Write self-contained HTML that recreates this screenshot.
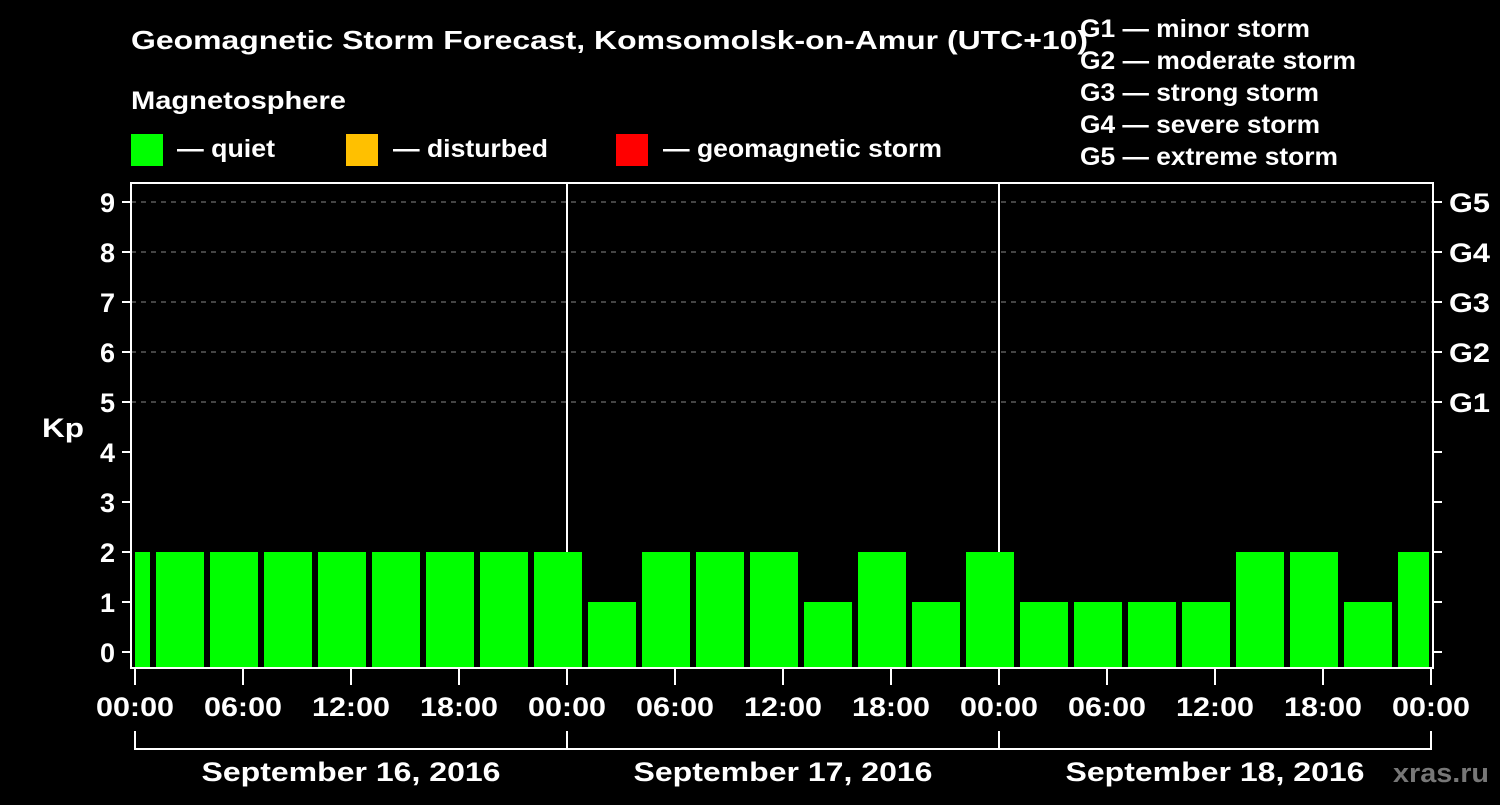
<!DOCTYPE html>
<html><head><meta charset="utf-8"><style>
body{margin:0;background:#000;width:1500px;height:800px;overflow:hidden}
svg text{font-family:"Liberation Sans",Arial,sans-serif;font-weight:bold;fill:#fff}
</style></head><body>
<svg id="c" width="1500" height="800" viewBox="0 0 1500 800">
<defs><clipPath id="pc"><rect x="135" y="183" width="1294" height="485"/></clipPath></defs>
<text x="131" y="49" font-size="26" textLength="957" lengthAdjust="spacingAndGlyphs">Geomagnetic Storm Forecast, Komsomolsk-on-Amur (UTC+10)</text>
<text x="131" y="109" font-size="25" textLength="215" lengthAdjust="spacingAndGlyphs">Magnetosphere</text>
<g><rect x="131" y="134" width="32" height="32" fill="#00ff00"/><text x="177" y="157" font-size="25" textLength="98" lengthAdjust="spacingAndGlyphs">— quiet</text></g>
<g><rect x="346" y="134" width="32" height="32" fill="#ffc000"/><text x="393" y="157" font-size="25" textLength="155" lengthAdjust="spacingAndGlyphs">— disturbed</text></g>
<g><rect x="616" y="134" width="32" height="32" fill="#ff0000"/><text x="663" y="157" font-size="25" textLength="279" lengthAdjust="spacingAndGlyphs">— geomagnetic storm</text></g>
<g font-size="25" lengthAdjust="spacingAndGlyphs">
<text x="1080" y="37" textLength="230" lengthAdjust="spacingAndGlyphs">G1 — minor storm</text>
<text x="1080" y="69" textLength="276" lengthAdjust="spacingAndGlyphs">G2 — moderate storm</text>
<text x="1080" y="101" textLength="239" lengthAdjust="spacingAndGlyphs">G3 — strong storm</text>
<text x="1080" y="133" textLength="240" lengthAdjust="spacingAndGlyphs">G4 — severe storm</text>
<text x="1080" y="165" textLength="258" lengthAdjust="spacingAndGlyphs">G5 — extreme storm</text>
</g>
<text x="42" y="437" font-size="27" textLength="42" lengthAdjust="spacingAndGlyphs">Kp</text>
<text x="1393" y="782" font-size="27" textLength="96" lengthAdjust="spacingAndGlyphs" style="fill:#777">xras.ru</text>
<g id="grid"></g><g id="bars" clip-path="url(#pc)"></g><g id="axes"></g>
</svg>
<script>
const kpValues=[2,2,2,2,2,2,2,2,2,1,2,2,2,1,2,1,2,1,1,1,1,2,2,1,2];
const yTicks=[0,1,2,3,4,5,6,7,8,9];
const gLabels=["G1","G2","G3","G4","G5"];
const xTickLabels=["00:00","06:00","12:00","18:00","00:00","06:00","12:00","18:00","00:00","06:00","12:00","18:00","00:00"];
const dayLabels=["September 16, 2016","September 17, 2016","September 18, 2016"];
const NS="http://www.w3.org/2000/svg";
const X0=135,PXH=18,Y0=652,PXK=50,BOT=668;
const xs=h=>X0+h*PXH, ys=k=>Y0-k*PXK;
function mk(t,a,p){const e=document.createElementNS(NS,t);for(const k in a)e.setAttribute(k,a[k]);p.appendChild(e);return e;}
const grid=document.getElementById('grid'),bars=document.getElementById('bars'),axes=document.getElementById('axes');
gLabels.forEach((g,i)=>{const y=ys(5+i);
const l=mk('line',{x1:131,x2:1433,y1:y,y2:y,stroke:'#888','stroke-dasharray':'5,5','stroke-width':1},grid);


const t=mk('text',{x:1449,y:y+10,'font-size':27,textLength:41,lengthAdjust:'spacingAndGlyphs'},axes);t.textContent=g;

});
[24,48].forEach(h=>{const l=mk('line',{x1:xs(h),x2:xs(h),y1:183,y2:668,stroke:'#fff','stroke-width':2},grid);

});
kpValues.forEach((v,i)=>{const h0=-2+3*i;const col=v>=5?'#ff0000':(v>=4?'#ffc000':'#00ff00');
const r=mk('rect',{x:xs(h0)+3,y:ys(v),width:3*PXH-6,height:BOT-ys(v),fill:col},bars);

});
const f=mk('rect',{x:131,y:183,width:1302,height:485,fill:'none',stroke:'#fff','stroke-width':2},axes);


yTicks.forEach(k=>{const y=ys(k);
mk('line',{x1:122,x2:131,y1:y,y2:y,stroke:'#fff','stroke-width':2},axes);
mk('line',{x1:1433,x2:1442,y1:y,y2:y,stroke:'#fff','stroke-width':2},axes);
const t=mk('text',{x:115,y:y+10,'font-size':27,'text-anchor':'end'},axes);t.textContent=k;

});
xTickLabels.forEach((s,i)=>{const x=xs(i*6);
mk('line',{x1:x,x2:x,y1:668,y2:685,stroke:'#fff','stroke-width':2},axes);
const t=mk('text',{x:x,y:716,'font-size':27,'text-anchor':'middle',textLength:78,lengthAdjust:'spacingAndGlyphs'},axes);t.textContent=s;

});
mk('line',{x1:xs(0),x2:xs(72),y1:749,y2:749,stroke:'#fff','stroke-width':2},axes);
[0,24,48,72].forEach(h=>mk('line',{x1:xs(h),x2:xs(h),y1:731,y2:750,stroke:'#fff','stroke-width':2},axes));
dayLabels.forEach((d,i)=>{const t=mk('text',{x:xs(12+24*i),y:781,'font-size':27,'text-anchor':'middle',textLength:299,lengthAdjust:'spacingAndGlyphs'},axes);t.textContent=d;

});
</script>
</body></html>
